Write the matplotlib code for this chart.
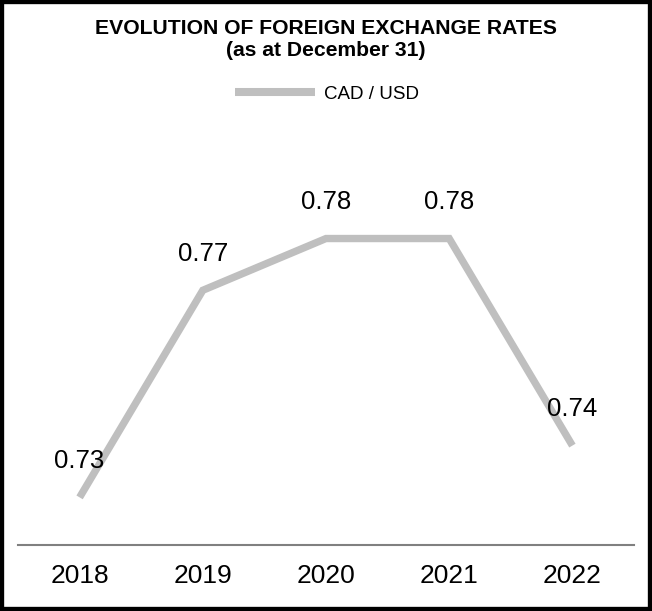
import matplotlib.pyplot as plt
from matplotlib.patches import Rectangle

plt.rcParams["font.family"] = ["Liberation Sans", "DejaVu Sans"]

# -------------------------------------------------------------
# Data
# -------------------------------------------------------------
years = ["2018", "2019", "2020", "2021", "2022"]
cad_usd = [0.73, 0.77, 0.78, 0.78, 0.74]
series_name = "CAD / USD"

line_color = "#BFBFBF"

# -------------------------------------------------------------
# Figure
# -------------------------------------------------------------
fig = plt.figure(figsize=(6.52, 6.11), dpi=100)
W, H = 652, 611

# axes placed in pixel terms: x 18..634, y 150..545 (from top)
ax = fig.add_axes([18 / W, (H - 545) / H, (634 - 18) / W, (545 - 150) / H])

x = list(range(len(years)))
ax.plot(x, cad_usd, color=line_color, lw=5.3, solid_joinstyle="miter",
        solid_capstyle="butt", label=series_name)

for xi, v in zip(x, cad_usd):
    ax.annotate(f"{v:.2f}", xy=(xi, v), xytext=(0, 26), textcoords="offset points",
                ha="center", va="center", fontsize=18.5, color="black")

ax.set_xlim(-0.5, 4.5)
ax.set_ylim(0.7208, 0.7971)
ax.set_yticks([])
ax.set_xticks(x)
ax.set_xticklabels(years, fontsize=19)
ax.tick_params(axis="x", length=0, pad=14)

for side in ["top", "left", "right"]:
    ax.spines[side].set_visible(False)
ax.spines["bottom"].set_color("#808080")
ax.spines["bottom"].set_linewidth(1.5)

# Title and legend
fig.text(0.5, 1 - 29 / H, "EVOLUTION OF FOREIGN EXCHANGE RATES", ha="center",
         va="center", fontsize=15.2, fontweight="bold")
fig.text(0.5, 1 - 51 / H, "(as at December 31)", ha="center", va="center",
         fontsize=15.2, fontweight="bold")

fig.legend(handles=ax.get_lines(), loc="center", bbox_to_anchor=(327 / W, 1 - 94 / H),
           frameon=False, fontsize=13.5, handlelength=4.27, handletextpad=0.48)
for h in fig.legends[0].get_lines():
    h.set_linewidth(5.8)

# Frame round the whole figure
fig.patches.append(Rectangle((0, 0), 1, 1, transform=fig.transFigure, fill=False,
                             edgecolor="black", lw=6, clip_on=True))

plt.savefig("out.png", dpi=100)
